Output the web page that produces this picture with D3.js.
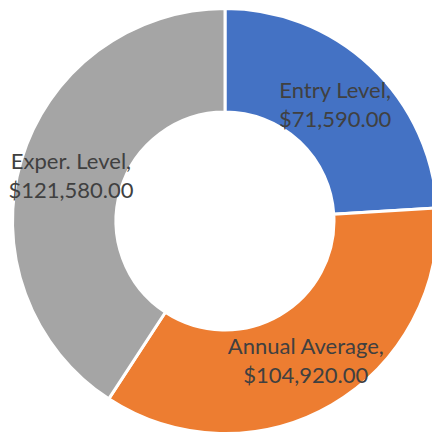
<!DOCTYPE html>
<html>
<head>
<meta charset="utf-8">
<script src="https://cdn.jsdelivr.net/npm/d3@7"></script>
<style>
    body { margin: 0; background: #fff; }
    #chart { width: 432px; height: 434px; overflow: hidden; }
</style>
</head>
<body>
<div id="chart"></div>
<script>
// salary data
const categories = ["Entry Level", "Annual Average", "Exper. Level"];
const salaries = [71590, 104920, 121580];
const colors = ["#4472C4", "#ED7D31", "#A5A5A5"];

let width = 432, height = 434;
let cx = 225, cy = 221;
let outerR = 212.5, innerR = 109;

let svg = d3.select("#chart").append("svg")
    .attr("width", width)
    .attr("height", height);

let g = svg.append("g")
    .attr("transform", `translate(${cx}, ${cy})`);

let data = categories.map((c, i) => ({name: c, value: salaries[i], color: colors[i]}));

let pie = d3.pie()
    .sort(null)
    .value(d => d.value);

let arc = d3.arc()
    .innerRadius(innerR)
    .outerRadius(outerR);

// label position at middle of ring
let labelArc = d3.arc()
    .innerRadius((innerR + outerR) / 2)
    .outerRadius((innerR + outerR) / 2);

let fmt = d3.format("$,.2f");

g.selectAll("path.slice")
    .data(pie(data))
    .enter().append("path")
    .attr("class", "slice")
    .attr("d", arc)
    .attr("fill", d => d.data.color)
    .attr("stroke", "#fff")
    .attr("stroke-width", 3);

let labels = g.selectAll("text.label")
    .data(pie(data))
    .enter().append("text")
    .attr("class", "label")
    .attr("transform", d => `translate(${labelArc.centroid(d)})`)
    .attr("text-anchor", "middle")
    .attr("font-family", "Lato, 'Open Sans', sans-serif")
    .attr("font-size", "22px")
    .attr("fill", "#404040");

labels.append("tspan")
    .attr("x", 0)
    .attr("y", -6)
    .text(d => d.data.name + ",");

labels.append("tspan")
    .attr("x", 0)
    .attr("y", 23)
    .text(d => fmt(d.data.value));
</script>
</body>
</html>
